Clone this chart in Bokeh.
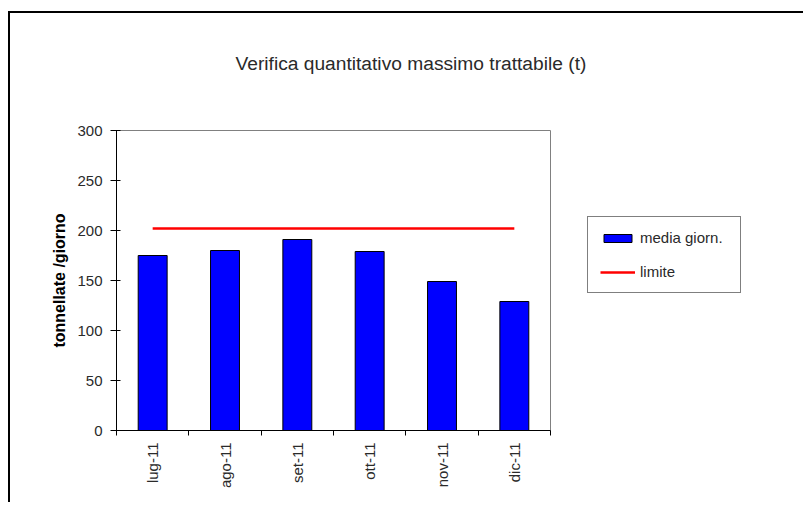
import math
from bokeh.plotting import figure
from bokeh.models import Range1d, FixedTicker, Legend, LegendItem
from bokeh.embed import file_html
from bokeh.resources import INLINE

# ---- data ----
months = ["lug-11", "ago-11", "set-11", "ott-11", "nov-11", "dic-11"]
media_giorn = [175, 180, 191, 179, 149, 129]
limite = [202, 202, 202, 202, 202, 202]
y_ticks = [0, 50, 100, 150, 200, 250, 300]
title_text = "Verifica quantitativo massimo trattabile (t)"
y_label = "tonnellate /giorno"

FONT = "Liberation Sans"
TXT = "#2a2a2a"

xs = [i + 0.5 for i in range(len(months))]
bounds = list(range(len(months) + 1))

p = figure(frame_width=434, frame_height=300, output_backend="svg", toolbar_location=None,
           x_range=Range1d(0, len(months)), y_range=Range1d(0, 300),
           min_border_left=106, min_border_right=245, min_border_top=117,
           min_border_bottom=72,
           styles={"border-left": "2px solid black", "border-top": "2px solid black",
                   "margin": "11px 0px 0px 8px"})
p.background_fill_color = "white"
p.border_fill_color = "white"
p.outline_line_color = "#808080"
p.outline_line_width = 1
p.xgrid.visible = False
p.ygrid.visible = False

# title (an empty second line keeps it higher above the plot area)
p.title.text = title_text + "\n"
p.title.align = "left"
p.title.vertical_align = "top"
p.title.offset = 119
p.title.standoff = 68
p.title.text_font = FONT
p.title.text_font_size = "19.2px"
p.title.text_font_style = "normal"
p.title.text_color = TXT

# bars and limit line
bars = p.vbar(x=xs, top=media_giorn, width=0.4, fill_color="#0000FF",
              line_color="black", line_width=1)
lim = p.line(x=xs, y=limite, line_color="#FF0000", line_width=2.5)

# x axis
xa = p.xaxis[0]
xa.ticker = FixedTicker(ticks=xs, minor_ticks=bounds)
xa.major_label_overrides = {x: m for x, m in zip(xs, months)}
xa.major_label_orientation = math.pi / 2
xa.major_tick_line_color = None
xa.major_tick_in = 0
xa.major_tick_out = 0
xa.minor_tick_in = 0
xa.minor_tick_out = 5
xa.minor_tick_line_color = "black"
xa.axis_line_color = "black"
xa.major_label_standoff = 7
xa.major_label_text_font = FONT
xa.major_label_text_font_size = "15px"
xa.major_label_text_color = TXT

# y axis
ya = p.yaxis[0]
ya.ticker = FixedTicker(ticks=y_ticks)
ya.major_tick_in = 4
ya.major_tick_out = 6
ya.major_tick_line_color = "black"
ya.minor_tick_line_color = None
ya.axis_line_color = "black"
ya.major_label_standoff = 8
ya.major_label_text_font = FONT
ya.major_label_text_font_size = "15px"
ya.major_label_text_color = TXT
ya.axis_label = y_label
ya.axis_label_text_font = FONT
ya.axis_label_text_font_style = "bold"
ya.axis_label_text_font_size = "16px"
ya.axis_label_text_color = "black"
ya.axis_label_standoff = 6

legend = Legend(items=[LegendItem(label="media giorn.", renderers=[bars]),
                       LegendItem(label="limite", renderers=[lim])],
                location=(37, 137), padding=12, margin=0, spacing=17,
                glyph_width=35, glyph_height=10, label_height=12,
                label_width=88, label_standoff=5,
                border_line_color="black", border_line_width=1,
                background_fill_color="white",
                label_text_font=FONT, label_text_font_size="15px",
                label_text_color=TXT)
p.add_layout(legend, "right")

open("out.html", "w").write(file_html(p, INLINE))
